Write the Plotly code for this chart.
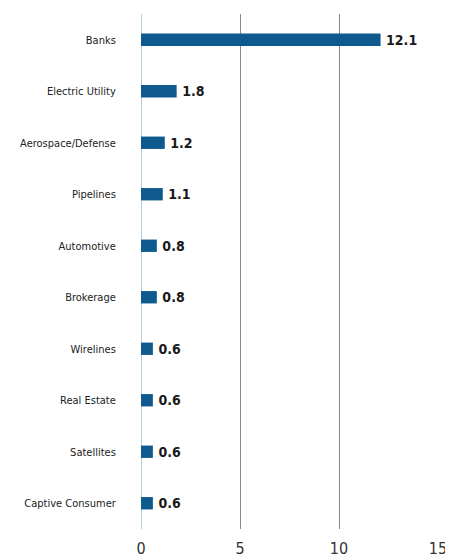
import plotly.graph_objects as go

categories = ["Banks", "Electric Utility", "Aerospace/Defense", "Pipelines", "Automotive",
              "Brokerage", "Wirelines", "Real Estate", "Satellites", "Captive Consumer"]
values = [12.1, 1.8, 1.2, 1.1, 0.8, 0.8, 0.6, 0.6, 0.6, 0.6]
x_ticks = [0, 5, 10, 15]

narrow = "DejaVu Sans Condensed, Liberation Sans Narrow, Arial Narrow, sans-serif"

fig = go.Figure(go.Bar(
    x=values, y=categories, orientation="h",
    marker=dict(color="#0e5a8f", line=dict(width=0)),
    width=0.24,
    text=[f"\u2009<b>{v}</b>" for v in values],
    textposition="outside",
    constraintext="none",
    textfont=dict(family=narrow, size=14, color="#1a1a1a"),
    cliponaxis=False,
))

# page body has an 8px default margin, so the figure is 8px smaller than the window
fig.update_layout(
    width=445, height=552,
    margin=dict(l=133, r=15, t=6, b=31, autoexpand=False),
    paper_bgcolor="white", plot_bgcolor="white",
    showlegend=False,
    xaxis=dict(
        range=[0, 15], tickvals=x_ticks, ticktext=[str(t) for t in x_ticks],
        showgrid=True, gridcolor="#8a8a8a", gridwidth=1,
        zeroline=True, zerolinecolor="#b7cde0", zerolinewidth=1,
        showline=False, automargin=False,
        ticks="outside", ticklen=5, tickcolor="rgba(0,0,0,0)",
        tickfont=dict(family=narrow, size=16, color="#333333"),
        fixedrange=True,
    ),
    yaxis=dict(
        autorange="reversed", automargin=False,
        showgrid=False, zeroline=False, showline=False,
        ticks="outside", ticklen=22, tickcolor="rgba(0,0,0,0)",
        tickfont=dict(family=narrow, size=11, color="#222222"),
    ),
)

fig.write_html("out.html")
